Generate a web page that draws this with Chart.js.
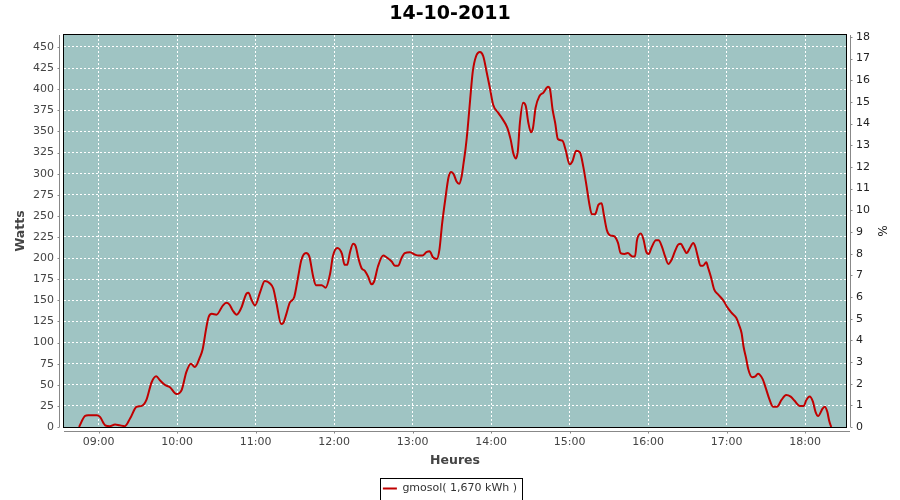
<!DOCTYPE html>
<html><head><meta charset="utf-8">
<script src="https://cdn.jsdelivr.net/npm/chart.js@4.4.0/dist/chart.umd.min.js"></script>
<style>html,body{margin:0;padding:0;background:#fff}</style>
</head><body>
<canvas id="c" width="900" height="500"></canvas>
<script>
const chartTitle = '14-10-2011';
const seriesLabel = 'gmosol( 1,670 kWh )';
const xTitle = 'Heures';
const yTitle = 'Watts';
const y2Title = '%';

const times = [
'08:45:00','08:49:30','08:52:00','08:58:30','09:01:00','09:05:00','09:08:30','09:12:30','09:16:00','09:20:00',
'09:24:00','09:29:00','09:33:00','09:36:30','09:40:30','09:44:00','09:47:00','09:50:30','09:54:30','09:59:30',
'10:03:30','10:07:00','10:10:30','10:13:30','10:17:30','10:19:30','10:22:00','10:24:00','10:26:30','10:30:00',
'10:35:00','10:37:30','10:40:00','10:42:30','10:45:30','10:49:00','10:53:00','10:54:30','10:57:00','10:59:30',
'11:03:30','11:07:00','11:11:00','11:13:30','11:16:00','11:19:30','11:21:00','11:23:30','11:26:00','11:29:30',
'11:32:30','11:35:00','11:38:30','11:41:00','11:44:00','11:46:00','11:50:30','11:53:30','11:57:00','11:59:00',
'12:02:30','12:06:00','12:08:00','12:10:00','12:12:00','12:14:30','12:16:30','12:18:30','12:21:00','12:23:30',
'12:26:00','12:28:30','12:30:30','12:33:30','12:37:30','12:40:00','12:44:00','12:46:30','12:49:00','12:51:30',
'12:54:00','12:58:00','13:02:00','13:04:30','13:07:30','13:10:30','13:13:00','13:15:30','13:18:30','13:20:30',
'13:22:30','13:25:00','13:27:30','13:29:30','13:31:30','13:33:30','13:35:30','13:37:30','13:39:00','13:40:30',
'13:42:00','13:44:00','13:46:00','13:48:30','13:51:30','13:54:00','13:56:30','13:59:00','14:01:30','14:05:30',
'14:09:00','14:12:30','14:15:00','14:17:00','14:19:00','14:20:30','14:22:00','14:24:30','14:26:30','14:28:30',
'14:30:30','14:32:00','14:34:00','14:37:00','14:40:00','14:43:30','14:45:00','14:47:00','14:49:00','14:51:00',
'14:54:30','14:57:00','15:00:00','15:02:00','15:05:00','15:08:00','15:10:30','15:13:00','15:15:00','15:17:00',
'15:19:30','15:22:00','15:24:30','15:26:00','15:28:30','15:31:00','15:34:00','15:37:00','15:39:00','15:42:00',
'15:44:30','15:48:00','15:50:00','15:51:30','15:54:30','15:56:30','15:58:30','16:00:30','16:02:30','16:06:00',
'16:08:00','16:10:30','16:13:00','16:15:30','16:18:00','16:20:30','16:23:00','16:25:00','16:27:00','16:29:30',
'16:32:00','16:34:30','16:36:00','16:38:00','16:40:00','16:42:00','16:44:30','16:46:00','16:48:00','16:50:30',
'16:53:30','16:57:30','17:00:30','17:04:00','17:07:30','17:09:30','17:11:30','17:13:00','17:15:00','17:16:30',
'17:19:30','17:22:00','17:24:00','17:27:30','17:30:00','17:32:30','17:35:30','17:38:30','17:42:00','17:45:30',
'17:49:00','17:52:00','17:56:00','17:59:00','18:01:00','18:03:30','18:06:00','18:08:00','18:10:00','18:13:30',
'18:15:00','18:17:00','18:18:30','18:20:00'
];
const watts = [
0,13,14,14,12,2,1,3,2,1,
10,24,25,32,53,60,55,50,47,39,
44,65,75,71,83,92,115,130,134,133,
144,147,145,138,133,141,158,159,150,144,
160,173,170,164,146,122,123,134,147,154,
178,198,206,202,178,168,168,165,182,202,
212,205,192,192,206,217,214,200,188,185,
178,169,172,190,203,201,196,191,191,200,
206,207,204,203,203,207,208,201,199,210,
240,270,296,302,299,291,288,297,313,330,
352,388,421,439,444,439,421,402,382,372,
364,354,340,324,318,328,360,384,380,360,
349,354,378,392,396,403,400,376,360,341,
339,328,311,314,327,325,308,285,265,252,
252,263,265,253,233,227,226,218,206,205,
206,202,202,221,229,222,208,205,212,221,
221,214,202,193,198,208,216,217,212,206,
212,218,214,202,191,191,195,188,178,163,
157,150,142,135,129,121,111,95,81,69,
59,60,63,57,46,34,24,24,32,38,
36,31,25,25,32,36,30,18,13,22,
24,18,7,0
];
const hourTicks = ['09:00','10:00','11:00','12:00','13:00','14:00','15:00','16:00','17:00','18:00'];
const wattTicks = [0,25,50,75,100,125,150,175,200,225,250,275,300,325,350,375,400,425,450];
const percentTicks = [0,1,2,3,4,5,6,7,8,9,10,11,12,13,14,15,16,17,18];

const toMin = s => { const p = s.split(':').map(Number); return p[0]*60 + p[1] + (p[2]||0)/60; };
const fmt = v => { const h = Math.floor(v/60), m = Math.round(v%60); return String(h).padStart(2,'0')+':'+String(m).padStart(2,'0'); };
const points = times.map((t,i) => ({x: toMin(t), y: watts[i]}));

const FONT = 'DejaVu Sans';
const CHART_BOTTOM = 427;

const plotDeco = {
  id: 'plotDeco',
  beforeDraw(chart) {
    const {ctx, chartArea: a} = chart;
    ctx.save();
    ctx.fillStyle = '#9fc4c3';
    ctx.fillRect(a.left, a.top, a.right - a.left, a.bottom - a.top);
    ctx.restore();
  },
  afterDraw(chart) {
    const {ctx, chartArea: a, scales} = chart;
    ctx.save();
    ctx.strokeStyle = '#000';
    ctx.lineWidth = 1;
    ctx.strokeRect(a.left - 0.5, a.top - 0.5, a.right - a.left + 1, a.bottom - a.top + 1);
    ctx.strokeStyle = '#888';
    ctx.beginPath();
    const lx = a.left - 4.5;
    ctx.moveTo(lx, a.top); ctx.lineTo(lx, a.bottom);
    scales.y.ticks.forEach(t => { const py = Math.round(scales.y.getPixelForValue(t.value)) + 0.5; ctx.moveTo(lx, py); ctx.lineTo(lx - 2, py); });
    const rx = a.right + 4.5;
    ctx.moveTo(rx, a.top); ctx.lineTo(rx, a.bottom);
    scales.y1.ticks.forEach(t => { const py = Math.round(scales.y1.getPixelForValue(t.value)) + 0.5; ctx.moveTo(rx, py); ctx.lineTo(rx + 2, py); });
    const by = a.bottom + 4.5;
    ctx.moveTo(a.left, by); ctx.lineTo(a.right + 4, by);
    scales.x.ticks.forEach(t => { const px = Math.round(scales.x.getPixelForValue(t.value)) + 0.5; ctx.moveTo(px, by); ctx.lineTo(px, by + 2); });
    ctx.stroke();
    const lg = chart.legend;
    if (lg && lg.legendHitBoxes && lg.legendHitBoxes[0]) {
      const h = lg.legendHitBoxes[0];
      const cy = h.top + h.height / 2;
      ctx.strokeStyle = '#000';
      ctx.strokeRect(Math.round(h.left - 3) + 0.5, Math.round(cy - 11) + 0.5, Math.round(h.width + 8), 22);
    }
    ctx.restore();
  }
};

new Chart(document.getElementById('c'), {
  type: 'line',
  data: { datasets: [{
    label: seriesLabel, data: points, yAxisID: 'y',
    borderColor: '#c00000', backgroundColor: '#c00000', borderWidth: 2,
    pointRadius: 0, fill: false, cubicInterpolationMode: 'monotone'
  }]},
  options: {
    responsive: false, animation: false, devicePixelRatio: 1,
    layout: { padding: { top: 0, left: 0, right: 0, bottom: -4 } },
    plugins: {
      title: { display: true, text: chartTitle, color: '#000', font: { family: FONT, size: 19, weight: 'bold' }, padding: { top: 2.3, bottom: 9.9 } },
      legend: { position: 'bottom', labels: { usePointStyle: true, pointStyle: 'line', pointStyleWidth: 14, color: '#333', font: { family: FONT, size: 11 }, padding: 10.5 } },
      tooltip: { enabled: false }
    },
    scales: {
      x: {
        type: 'linear', min: 513.5, max: 1111.3,
        afterBuildTicks: s => { s.ticks = hourTicks.map(h => ({ value: toMin(h) })); },
        afterFit: s => { s.height = 504 - (s.chart.legend ? s.chart.legend.height : 32) - CHART_BOTTOM; },
        ticks: { callback: v => fmt(v), color: '#444', font: { family: FONT, size: 11 }, padding: 9, maxRotation: 0, autoSkip: false },
        grid: { color: '#ffffff', drawTicks: false, lineWidth: 1 },
        border: { display: false, dash: [2, 2] },
        title: { display: true, text: xTitle, color: '#444', font: { family: FONT, size: 12.5, weight: 'bold' }, padding: { top: 0, bottom: 4 } }
      },
      y: {
        position: 'left', min: 0, max: 464.2,
        afterBuildTicks: s => { s.ticks = wattTicks.map(v => ({ value: v })); },
        afterFit: s => { s.width = 64; },
        ticks: { color: '#444', font: { family: FONT, size: 11 }, padding: 10 },
        grid: { color: '#ffffff', drawTicks: false, lineWidth: 1 },
        border: { display: false, dash: [2, 2] },
        title: { display: true, text: yTitle, color: '#444', font: { family: FONT, size: 12.5, weight: 'bold' }, padding: { top: 13, bottom: 0 } }
      },
      y1: {
        position: 'right', min: 0, max: 18.09,
        afterBuildTicks: s => { s.ticks = percentTicks.map(v => ({ value: v })); },
        afterFit: s => { s.width = 54; },
        ticks: { color: '#222', font: { family: FONT, size: 11 }, padding: 10 },
        grid: { display: false, drawTicks: false },
        border: { display: false },
        title: { display: true, text: y2Title, color: '#222', font: { family: FONT, size: 12 }, padding: { top: 11.6, bottom: 0 } }
      }
    }
  },
  plugins: [plotDeco]
});
</script>
</body></html>
